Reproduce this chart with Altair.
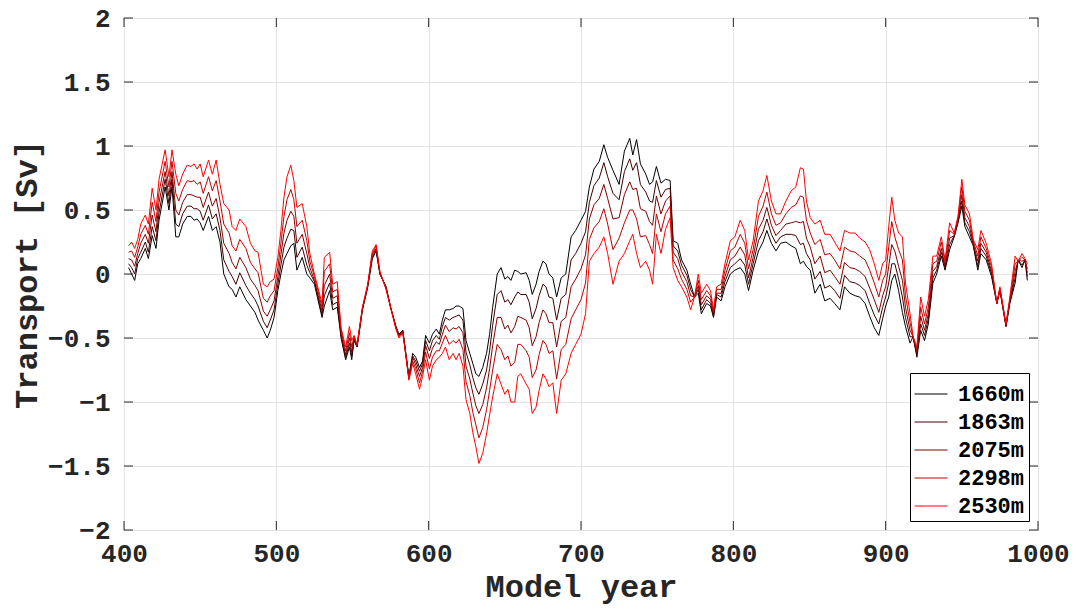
import altair as alt
import pandas as pd

years = [403, 405, 407, 409, 411, 414, 416, 418.5, 421, 423,
         427, 429.5, 431.5, 434, 436, 438.5, 441.5, 444, 446, 448,
         450, 452, 455.5, 458, 460.5, 463, 465.5, 469, 471, 473.5,
         476, 480, 483, 486, 488, 491.5, 494, 496, 498.5, 501,
         503, 505, 507, 509.5, 511.5, 513.5, 517, 520, 522, 525,
         530, 531.5, 535, 537, 540, 542.5, 545.5, 548, 549.5, 551,
         553, 556.5, 560, 563, 565.5, 568, 572, 575, 578.5, 580.5,
         583, 585, 587, 589.5, 591.5, 594, 596, 598, 600.5, 602.5,
         605, 607, 609, 611, 613.5, 616, 618, 620, 622.5, 624.5,
         627, 629, 631, 633, 635.5, 638, 640, 642, 645, 647.5,
         650, 652, 654, 656.5, 658.5, 660.5, 664, 666, 668, 670.5,
         672.5, 675, 677, 679, 681.5, 684, 687, 690, 693.5, 696.5,
         700, 703, 705.5, 708.5, 712, 715, 717.5, 721, 725, 728.5,
         732, 734, 736.5, 739, 742.5, 745, 747, 749.5, 752.5, 755.5,
         758.5, 760.5, 763.5, 766, 769.5, 772, 774.5, 777, 779, 782.5,
         785, 787, 789, 792, 794.5, 798, 801, 804.5, 807.5, 810,
         813, 816.5, 819.5, 822, 825, 828, 831, 834.5, 838, 841,
         844, 846, 848, 850.5, 853.5, 857, 860, 863.5, 866.5, 870,
         873, 876.5, 880, 883, 886.5, 889.5, 892.5, 895.5, 898, 900,
         902, 904, 906, 908.5, 911, 913, 916, 918, 920.5, 923,
         925.5, 928, 931, 933.5, 936.5, 939, 942, 945, 947.5, 950,
         952, 955, 957.5, 960.5, 962.5, 966, 969.5, 973, 975, 979,
         981.5, 985, 987, 989.5, 991.5, 993]

d1660 = [0.05, 0, -0.05, 0.08, 0.12, 0.2, 0.12, 0.3, 0.2, 0.42,
         0.68, 0.5, 0.68, 0.29, 0.29, 0.39, 0.45, 0.45, 0.42, 0.43,
         0.40, 0.34, 0.45, 0.34, 0.37, 0.25, 0, -0.1, -0.12, -0.18,
         -0.1, -0.2, -0.25, -0.3, -0.36, -0.44, -0.5, -0.44, -0.34, -0.13,
         0, 0.11, 0.16, 0.22, 0.24, 0.03, 0.13, 0, -0.03, -0.08,
         -0.34, -0.25, -0.13, -0.28, -0.26, -0.5, -0.67, -0.57, -0.67, -0.52,
         -0.57, -0.28, -0.1, 0.12, 0.18, 0, -0.1, -0.26, -0.41, -0.47,
         -0.44, -0.62, -0.8, -0.62, -0.65, -0.73, -0.68, -0.48, -0.54, -0.47,
         -0.43, -0.47, -0.36, -0.28, -0.28, -0.27, -0.25, -0.25, -0.27, -0.52,
         -0.62, -0.70, -0.78, -0.8, -0.73, -0.62, -0.47, -0.26, 0, 0.05,
         -0.04, -0.02, -0.05, 0.03, 0.02, 0, 0.01, -0.05, -0.16, -0.08,
         0.02, 0.1, 0.08, 0, -0.03, -0.18, -0.03, 0, 0.29, 0.34,
         0.42, 0.49, 0.68, 0.82, 0.88, 1.01, 0.91, 0.81, 0.70, 0.96,
         1.06, 0.93, 1.05, 0.86, 0.78, 0.70, 0.72, 0.84, 0.71, 0.74,
         0.73, 0.26, 0.24, 0.11, 0.03, -0.08, -0.18, -0.15, -0.31, -0.23,
         -0.25, -0.34, -0.18, -0.21, -0.1, 0, 0.03, 0.05, 0, -0.13,
         0.03, 0.18, 0.25, 0.34, 0.24, 0.18, 0.24, 0.25, 0.22, 0.2,
         0.08, 0.1, 0.06, 0.03, -0.15, -0.08, -0.21, -0.19, -0.23, -0.28,
         -0.1, -0.15, -0.17, -0.18, -0.23, -0.33, -0.42, -0.48, -0.35, -0.25,
         -0.18, -0.05, 0, -0.13, -0.3, -0.41, -0.54, -0.49, -0.65, -0.44,
         -0.52, -0.39, -0.07, 0, 0.14, 0.03, 0.19, 0.29, 0.40, 0.53,
         0.37, 0.29, 0.22, 0.03, 0.16, 0.11, -0.02, -0.23, -0.13, -0.41,
         -0.23, -0.07, 0.11, 0.05, 0.11, -0.05]

d1863 = [0.08, 0.05, 0, 0.12, 0.17, 0.25, 0.17, 0.37, 0.26, 0.48,
         0.74, 0.55, 0.74, 0.39, 0.37, 0.47, 0.53, 0.53, 0.51, 0.51,
         0.49, 0.42, 0.54, 0.43, 0.47, 0.34, 0.11, 0.02, -0.02, -0.08,
         0.01, -0.09, -0.15, -0.20, -0.25, -0.37, -0.42, -0.36, -0.28, -0.08,
         0.07, 0.21, 0.28, 0.35, 0.34, 0.13, 0.21, 0.07, 0.01, -0.06,
         -0.32, -0.17, -0.07, -0.24, -0.22, -0.48, -0.65, -0.54, -0.64, -0.51,
         -0.57, -0.28, -0.10, 0.13, 0.19, 0, -0.10, -0.26, -0.41, -0.48,
         -0.44, -0.62, -0.81, -0.64, -0.68, -0.76, -0.70, -0.52, -0.60, -0.52,
         -0.48, -0.51, -0.41, -0.34, -0.36, -0.34, -0.33, -0.32, -0.36, -0.61,
         -0.71, -0.81, -0.89, -0.94, -0.86, -0.75, -0.60, -0.40, -0.16, -0.13,
         -0.22, -0.20, -0.24, -0.18, -0.14, -0.16, -0.16, -0.22, -0.35, -0.27,
         -0.17, -0.08, -0.10, -0.18, -0.19, -0.36, -0.19, -0.16, 0.11, 0.16,
         0.24, 0.33, 0.56, 0.69, 0.75, 0.87, 0.76, 0.63, 0.58, 0.80,
         0.90, 0.81, 0.87, 0.70, 0.64, 0.57, 0.56, 0.73, 0.60, 0.66,
         0.67, 0.22, 0.18, 0.07, -0.01, -0.12, -0.18, -0.12, -0.28, -0.20,
         -0.23, -0.33, -0.16, -0.18, -0.06, 0.05, 0.08, 0.12, 0.07, -0.08,
         0.08, 0.26, 0.33, 0.43, 0.31, 0.24, 0.29, 0.31, 0.31, 0.30,
         0.23, 0.24, 0.16, 0.11, -0.04, 0.02, -0.11, -0.09, -0.13, -0.19,
         -0.01, -0.06, -0.07, -0.09, -0.13, -0.23, -0.32, -0.39, -0.26, -0.18,
         -0.07, 0.08, 0.08, -0.04, -0.18, -0.34, -0.49, -0.49, -0.63, -0.39,
         -0.48, -0.35, -0.03, 0.03, 0.17, 0.05, 0.23, 0.30, 0.41, 0.57,
         0.40, 0.33, 0.23, 0.06, 0.20, 0.14, 0, -0.23, -0.12, -0.41,
         -0.22, -0.03, 0.11, 0.07, 0.11, -0.02]

d2075 = [0.12, 0.11, 0.06, 0.16, 0.24, 0.31, 0.24, 0.46, 0.33, 0.56,
         0.80, 0.61, 0.80, 0.50, 0.46, 0.56, 0.62, 0.62, 0.61, 0.60,
         0.60, 0.52, 0.64, 0.53, 0.59, 0.44, 0.24, 0.16, 0.09, 0.04,
         0.13, 0.05, -0.04, -0.09, -0.13, -0.29, -0.33, -0.28, -0.21, -0.02,
         0.15, 0.32, 0.42, 0.49, 0.45, 0.24, 0.31, 0.16, 0.05, -0.05,
         -0.29, -0.09, 0, -0.19, -0.17, -0.47, -0.63, -0.50, -0.61, -0.50,
         -0.56, -0.27, -0.09, 0.15, 0.20, 0.01, -0.11, -0.26, -0.42, -0.48,
         -0.45, -0.63, -0.81, -0.65, -0.71, -0.80, -0.73, -0.56, -0.66, -0.58,
         -0.53, -0.55, -0.47, -0.40, -0.45, -0.42, -0.43, -0.41, -0.46, -0.72,
         -0.82, -0.93, -1.03, -1.09, -1.02, -0.89, -0.74, -0.56, -0.34, -0.34,
         -0.43, -0.40, -0.46, -0.41, -0.33, -0.34, -0.36, -0.42, -0.56, -0.49,
         -0.38, -0.28, -0.31, -0.38, -0.38, -0.57, -0.37, -0.34, -0.10, -0.04,
         0.04, 0.15, 0.43, 0.54, 0.59, 0.70, 0.59, 0.43, 0.44, 0.62,
         0.72, 0.66, 0.67, 0.51, 0.49, 0.41, 0.38, 0.61, 0.47, 0.57,
         0.61, 0.17, 0.12, 0.02, -0.06, -0.17, -0.18, -0.09, -0.24, -0.17,
         -0.20, -0.31, -0.15, -0.15, -0.02, 0.11, 0.14, 0.21, 0.15, -0.03,
         0.13, 0.35, 0.42, 0.52, 0.38, 0.30, 0.34, 0.39, 0.40, 0.41,
         0.40, 0.41, 0.28, 0.21, 0.08, 0.14, 0.01, 0.03, -0.02, -0.08,
         0.09, 0.05, 0.04, 0.02, -0.02, -0.11, -0.20, -0.30, -0.17, -0.10,
         0.06, 0.23, 0.18, 0.06, -0.05, -0.26, -0.44, -0.49, -0.62, -0.33,
         -0.44, -0.31, 0.02, 0.06, 0.20, 0.06, 0.28, 0.30, 0.42, 0.62,
         0.44, 0.37, 0.24, 0.10, 0.24, 0.17, 0.02, -0.23, -0.12, -0.40,
         -0.21, 0.02, 0.11, 0.10, 0.11, 0.01]

d2298 = [0.17, 0.18, 0.13, 0.21, 0.31, 0.38, 0.31, 0.56, 0.41, 0.64,
         0.88, 0.68, 0.88, 0.63, 0.57, 0.66, 0.73, 0.72, 0.73, 0.70,
         0.72, 0.63, 0.76, 0.65, 0.73, 0.57, 0.39, 0.32, 0.22, 0.18,
         0.27, 0.20, 0.09, 0.04, 0.01, -0.19, -0.22, -0.17, -0.13, 0.05,
         0.24, 0.45, 0.58, 0.66, 0.58, 0.37, 0.42, 0.26, 0.10, -0.02,
         -0.26, 0.02, 0.08, -0.14, -0.12, -0.44, -0.60, -0.46, -0.57, -0.49,
         -0.56, -0.27, -0.09, 0.16, 0.22, 0.01, -0.11, -0.26, -0.42, -0.49,
         -0.45, -0.63, -0.82, -0.68, -0.74, -0.85, -0.76, -0.61, -0.74, -0.65,
         -0.60, -0.60, -0.54, -0.48, -0.55, -0.52, -0.54, -0.51, -0.59, -0.84,
         -0.95, -1.08, -1.18, -1.28, -1.20, -1.06, -0.91, -0.75, -0.55, -0.59,
         -0.67, -0.64, -0.72, -0.69, -0.55, -0.55, -0.60, -0.65, -0.81, -0.75,
         -0.63, -0.52, -0.55, -0.62, -0.60, -0.82, -0.59, -0.55, -0.35, -0.28,
         -0.20, -0.07, 0.27, 0.36, 0.41, 0.51, 0.39, 0.19, 0.28, 0.40,
         0.50, 0.50, 0.43, 0.29, 0.30, 0.23, 0.16, 0.47, 0.33, 0.47,
         0.53, 0.11, 0.04, -0.04, -0.12, -0.22, -0.18, -0.05, -0.20, -0.13,
         -0.17, -0.30, -0.12, -0.12, 0.03, 0.18, 0.21, 0.31, 0.24, 0.04,
         0.19, 0.45, 0.53, 0.64, 0.47, 0.38, 0.40, 0.47, 0.52, 0.54,
         0.61, 0.60, 0.42, 0.32, 0.23, 0.27, 0.15, 0.16, 0.11, 0.04,
         0.21, 0.18, 0.17, 0.14, 0.11, 0.03, -0.07, -0.18, -0.05, 0,
         0.21, 0.41, 0.29, 0.19, 0.11, -0.17, -0.38, -0.49, -0.59, -0.26,
         -0.39, -0.26, 0.08, 0.10, 0.25, 0.09, 0.34, 0.31, 0.44, 0.68,
         0.49, 0.42, 0.26, 0.14, 0.29, 0.20, 0.05, -0.23, -0.11, -0.40,
         -0.20, 0.08, 0.10, 0.13, 0.11, 0.04]

d2530 = [0.22, 0.25, 0.2, 0.27, 0.39, 0.46, 0.39, 0.67, 0.5, 0.74,
         0.97, 0.76, 0.97, 0.78, 0.69, 0.78, 0.85, 0.84, 0.86, 0.82,
         0.86, 0.76, 0.89, 0.78, 0.89, 0.70, 0.55, 0.5, 0.37, 0.34,
         0.43, 0.37, 0.24, 0.18, 0.17, -0.08, -0.1, -0.06, -0.04, 0.13,
         0.34, 0.6, 0.76, 0.85, 0.73, 0.52, 0.55, 0.37, 0.16, 0,
         -0.23, 0.13, 0.17, -0.08, -0.06, -0.42, -0.57, -0.41, -0.52, -0.48,
         -0.55, -0.26, -0.08, 0.18, 0.23, 0.02, -0.12, -0.26, -0.43, -0.5,
         -0.46, -0.64, -0.83, -0.70, -0.78, -0.9, -0.8, -0.67, -0.83, -0.72,
         -0.67, -0.65, -0.62, -0.57, -0.67, -0.62, -0.67, -0.62, -0.72, -0.98,
         -1.09, -1.24, -1.35, -1.48, -1.40, -1.25, -1.1, -0.96, -0.78, -0.86,
         -0.94, -0.9, -1.0, -1.0, -0.8, -0.78, -0.86, -0.9, -1.09, -1.04,
         -0.91, -0.78, -0.82, -0.88, -0.85, -1.09, -0.83, -0.78, -0.62, -0.55,
         -0.47, -0.31, 0.10, 0.16, 0.21, 0.29, 0.16, -0.08, 0.10, 0.16,
         0.26, 0.31, 0.16, 0.05, 0.10, 0.03, -0.08, 0.31, 0.16, 0.35,
         0.44, 0.05, -0.05, -0.1, -0.18, -0.28, -0.18, 0, -0.15, -0.08,
         -0.13, -0.28, -0.1, -0.08, 0.08, 0.26, 0.29, 0.42, 0.34, 0.11,
         0.26, 0.57, 0.65, 0.77, 0.57, 0.47, 0.47, 0.57, 0.65, 0.68,
         0.83, 0.82, 0.57, 0.44, 0.39, 0.42, 0.31, 0.31, 0.25, 0.18,
         0.34, 0.32, 0.32, 0.28, 0.25, 0.19, 0.08, -0.05, 0.08, 0.11,
         0.37, 0.60, 0.42, 0.32, 0.29, -0.07, -0.31, -0.49, -0.57, -0.18,
         -0.33, -0.2, 0.14, 0.14, 0.29, 0.11, 0.40, 0.32, 0.45, 0.74,
         0.54, 0.47, 0.27, 0.19, 0.34, 0.24, 0.08, -0.23, -0.1, -0.39,
         -0.18, 0.14, 0.1, 0.16, 0.12, 0.08]

depths = ["1660m", "1863m", "2075m", "2298m", "2530m"]
colors = ["#000000", "#400000", "#800000", "#bf0000", "#ff0000"]
x_ticks = [400, 500, 600, 700, 800, 900, 1000]
y_ticks = [-2, -1.5, -1, -0.5, 0, 0.5, 1, 1.5, 2]

series = [d1660, d1863, d2075, d2298, d2530]
rows = []
for name, vals in zip(depths, series):
    for yr, v in zip(years, vals):
        rows.append({"year": yr, "transport": v, "depth": name})
df = pd.DataFrame(rows)

W, H = 914, 512
FONT = "Liberation Mono"
TXT = "#262626"

xscale = alt.Scale(domain=[400, 1000], nice=False, zero=False)
yscale = alt.Scale(domain=[-2, 2], nice=False, zero=False)

lines = alt.Chart(df).mark_line(strokeWidth=1, clip=True).encode(
    x=alt.X("year:Q", scale=xscale,
            axis=alt.Axis(values=x_ticks, format="d", title="Model year",
                          labelFlush=False, labelPadding=10, titlePadding=5)),
    y=alt.Y("transport:Q", scale=yscale,
            axis=alt.Axis(values=y_ticks, format="~g", title="Transport [Sv]",
                          labelFlush=False, labelPadding=14, titlePadding=4)),
    color=alt.Color("depth:N", sort=depths,
                    scale=alt.Scale(domain=depths, range=colors),
                    legend=alt.Legend(title=None, orient="bottom-right", offset=9,
                                      strokeColor="black", fillColor="white",
                                      padding=4, symbolType="stroke",
                                      symbolSize=1089, symbolStrokeWidth=1,
                                      labelFont=FONT, labelFontSize=22,
                                      labelFontWeight="bold", labelColor="black",
                                      rowPadding=0, labelOffset=10)),
)

xt_df = pd.DataFrame({"t": x_ticks})
yt_df = pd.DataFrame({"t": y_ticks})
TL = 9
xt_bot = alt.Chart(xt_df).mark_rule(color=TXT, strokeWidth=1).encode(
    x=alt.X("t:Q", scale=xscale), y=alt.value(H), y2=alt.value(H - TL))
xt_top = alt.Chart(xt_df).mark_rule(color=TXT, strokeWidth=1).encode(
    x=alt.X("t:Q", scale=xscale), y=alt.value(0), y2=alt.value(TL))
yt_left = alt.Chart(yt_df).mark_rule(color=TXT, strokeWidth=1).encode(
    y=alt.Y("t:Q", scale=yscale), x=alt.value(0), x2=alt.value(TL))
yt_right = alt.Chart(yt_df).mark_rule(color=TXT, strokeWidth=1).encode(
    y=alt.Y("t:Q", scale=yscale), x=alt.value(W), x2=alt.value(W - TL))

chart = alt.layer(lines, xt_bot, xt_top, yt_left, yt_right).properties(
    width=W, height=H,
    background="white",
    autosize=alt.AutoSizeParams(type="none"),
    padding={"left": 124, "top": 18, "right": 39, "bottom": 80},
).configure_view(
    stroke=TXT, strokeWidth=1
).configure_axis(
    grid=True, gridColor="#e3e3e3", gridWidth=1,
    domain=False, ticks=False,
    labelFont=FONT, labelFontSize=26, labelFontWeight="bold", labelColor=TXT,
    titleFont=FONT, titleFontSize=32, titleFontWeight="bold", titleColor=TXT,
)

chart.save("out.html", embed_options={"renderer": "svg", "actions": False})
